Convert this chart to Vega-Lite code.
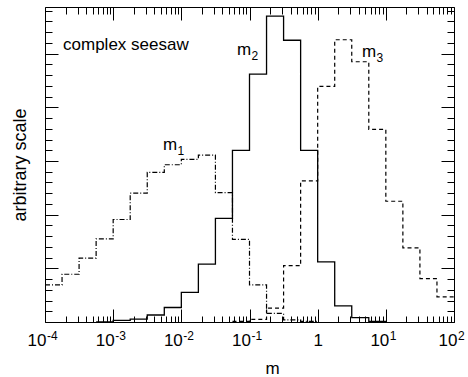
{
  "$schema": "https://vega.github.io/schema/vega-lite/v6.json",
  "width": 409,
  "height": 315,
  "autosize": {"type": "none"},
  "padding": {"left": 45, "top": 7, "right": 14, "bottom": 55},
  "config": {
    "view": {"stroke": "black", "strokeWidth": 1},
    "font": "Liberation Sans",
    "axis": {
      "grid": false,
      "domain": false,
      "tickColor": "black",
      "tickWidth": 1,
      "labelColor": "black",
      "titleColor": "black",
      "labelFont": "Liberation Sans",
      "titleFont": "Liberation Sans",
      "titleFontWeight": "normal"
    }
  },
  "datasets": {
    "m1": [
      {"x": 0.0001, "y": 0.69},
      {"x": 0.000177828, "y": 0.89},
      {"x": 0.000316228, "y": 1.19},
      {"x": 0.000562341, "y": 1.55},
      {"x": 0.001, "y": 1.91},
      {"x": 0.00177828, "y": 2.40},
      {"x": 0.00316228, "y": 2.79},
      {"x": 0.00562341, "y": 2.93},
      {"x": 0.01, "y": 3.03},
      {"x": 0.0177828, "y": 3.11},
      {"x": 0.0316228, "y": 2.41},
      {"x": 0.0562341, "y": 1.54},
      {"x": 0.1, "y": 0.69},
      {"x": 0.177828, "y": 0.16},
      {"x": 0.316228, "y": 0.04},
      {"x": 0.562341, "y": 0.01},
      {"x": 1, "y": 0}
    ],
    "m2": [
      {"x": 0.000562341, "y": 0},
      {"x": 0.001, "y": 0.03},
      {"x": 0.00177828, "y": 0.055},
      {"x": 0.00316228, "y": 0.13},
      {"x": 0.00562341, "y": 0.27},
      {"x": 0.01, "y": 0.553},
      {"x": 0.0177828, "y": 1.08},
      {"x": 0.0316228, "y": 1.93},
      {"x": 0.0562341, "y": 3.20},
      {"x": 0.1, "y": 4.62},
      {"x": 0.177828, "y": 5.70},
      {"x": 0.316228, "y": 5.25},
      {"x": 0.562341, "y": 3.20},
      {"x": 1, "y": 1.12},
      {"x": 1.77828, "y": 0.30},
      {"x": 3.16228, "y": 0.08},
      {"x": 5.62341, "y": 0.01},
      {"x": 10, "y": 0}
    ],
    "m3": [
      {"x": 0.0562341, "y": 0.01},
      {"x": 0.1, "y": 0.05},
      {"x": 0.177828, "y": 0.26},
      {"x": 0.316228, "y": 1.05},
      {"x": 0.562341, "y": 2.63},
      {"x": 1, "y": 4.39},
      {"x": 1.77828, "y": 5.26},
      {"x": 3.16228, "y": 4.85},
      {"x": 5.62341, "y": 3.59},
      {"x": 10, "y": 2.25},
      {"x": 17.7828, "y": 1.38},
      {"x": 31.6228, "y": 0.81},
      {"x": 56.2341, "y": 0.47},
      {"x": 100, "y": 0.47}
    ],
    "labels": [
      {"x": 0.000184, "y": 5.07, "t": "complex seesaw", "s": ""},
      {"x": 0.00538, "y": 3.20, "t": "m", "s": "1"},
      {"x": 0.0655, "y": 4.97, "t": "m", "s": "2"},
      {"x": 4.47, "y": 4.93, "t": "m", "s": "3"}
    ]
  },
  "resolve": {
    "scale": {"x": "shared", "y": "shared"},
    "axis": {"x": "independent", "y": "independent"}
  },
  "layer": [
    {
      "data": {"name": "m1"},
      "mark": {"type": "line", "interpolate": "step-after", "color": "black", "strokeWidth": 1.2, "strokeDash": [5, 2, 1, 2]},
      "encoding": {
        "x": {
          "field": "x", "type": "quantitative",
          "scale": {"type": "log", "domain": [0.0001, 100], "nice": false},
          "axis": {
            "orient": "bottom",
            "values": [0.0001, 0.001, 0.01, 0.1, 1, 10, 100],
            "tickSize": -13,
            "labelExpr": "abs(datum.value - 1) < 1e-9 ? '1' : '10'",
            "labelFontSize": 17,
            "labelAlign": {"condition": {"test": "abs(datum.value - 1) < 1e-9", "value": "center"}, "value": "right"},
            "labelOffset": {"condition": [{"test": "abs(datum.value - 1) < 1e-9", "value": 0}, {"test": "datum.value < 1", "value": 1}], "value": 3},
            "labelPadding": 23,
            "labelFlush": false,
            "labelOverlap": false,
            "title": "m",
            "titleFontSize": 17,
            "titleX": 227,
            "titleY": 51,
            "titleBaseline": "alphabetic"
          }
        },
        "y": {
          "field": "y", "type": "quantitative",
          "scale": {"domain": [0, 5.87], "nice": false, "zero": true},
          "axis": {
            "orient": "left",
            "values": [0, 1, 2, 3, 4, 5],
            "tickSize": -13,
            "labels": false,
            "title": "arbitrary scale",
            "titleFontSize": 18,
            "titlePadding": 15
          }
        }
      }
    },
    {
      "data": {"name": "m2"},
      "mark": {"type": "line", "interpolate": "step-after", "color": "black", "strokeWidth": 1.3},
      "encoding": {
        "x": {
          "field": "x", "type": "quantitative",
          "scale": {"type": "log", "domain": [0.0001, 100], "nice": false},
          "axis": {
            "orient": "bottom",
            "values": [0.0002, 0.0003, 0.0004, 0.0005, 0.0006, 0.0007, 0.0008, 0.0009,
                       0.002, 0.003, 0.004, 0.005, 0.006, 0.007, 0.008, 0.009,
                       0.02, 0.03, 0.04, 0.05, 0.06, 0.07, 0.08, 0.09,
                       0.2, 0.3, 0.4, 0.5, 0.6, 0.7, 0.8, 0.9,
                       2, 3, 4, 5, 6, 7, 8, 9,
                       20, 30, 40, 50, 60, 70, 80, 90],
            "tickSize": -6,
            "labels": false,
            "title": null
          }
        },
        "y": {
          "field": "y", "type": "quantitative",
          "scale": {"domain": [0, 5.87], "nice": false, "zero": true},
          "axis": {
            "orient": "left",
            "values": [0.2, 0.4, 0.6, 0.8, 1.2, 1.4, 1.6, 1.8, 2.2, 2.4, 2.6, 2.8, 3.2, 3.4, 3.6, 3.8, 4.2, 4.4, 4.6, 4.8, 5.2, 5.4, 5.6, 5.8],
            "tickSize": -7,
            "labels": false,
            "title": null
          }
        }
      }
    },
    {
      "data": {"name": "m3"},
      "mark": {"type": "line", "interpolate": "step-after", "color": "black", "strokeWidth": 1.2, "strokeDash": [4, 3]},
      "encoding": {
        "x": {
          "field": "x", "type": "quantitative",
          "scale": {"type": "log", "domain": [0.0001, 100], "nice": false},
          "axis": {
            "orient": "top",
            "values": [0.0001, 0.001, 0.01, 0.1, 1, 10, 100],
            "tickSize": -13,
            "labels": false,
            "title": null
          }
        },
        "y": {
          "field": "y", "type": "quantitative",
          "scale": {"domain": [0, 5.87], "nice": false, "zero": true},
          "axis": {
            "orient": "right",
            "values": [0, 1, 2, 3, 4, 5],
            "tickSize": -13,
            "labels": false,
            "title": null
          }
        }
      }
    },
    {
      "data": {"name": "labels"},
      "mark": {"type": "text", "align": "left", "baseline": "alphabetic", "fontSize": 17, "font": "Liberation Sans", "color": "black"},
      "encoding": {
        "x": {
          "field": "x", "type": "quantitative",
          "scale": {"type": "log", "domain": [0.0001, 100], "nice": false},
          "axis": {
            "orient": "top",
            "values": [0.0002, 0.0003, 0.0004, 0.0005, 0.0006, 0.0007, 0.0008, 0.0009,
                       0.002, 0.003, 0.004, 0.005, 0.006, 0.007, 0.008, 0.009,
                       0.02, 0.03, 0.04, 0.05, 0.06, 0.07, 0.08, 0.09,
                       0.2, 0.3, 0.4, 0.5, 0.6, 0.7, 0.8, 0.9,
                       2, 3, 4, 5, 6, 7, 8, 9,
                       20, 30, 40, 50, 60, 70, 80, 90],
            "tickSize": -7,
            "labels": false,
            "title": null
          }
        },
        "y": {
          "field": "y", "type": "quantitative",
          "scale": {"domain": [0, 5.87], "nice": false, "zero": true},
          "axis": {
            "orient": "right",
            "values": [0.2, 0.4, 0.6, 0.8, 1.2, 1.4, 1.6, 1.8, 2.2, 2.4, 2.6, 2.8, 3.2, 3.4, 3.6, 3.8, 4.2, 4.4, 4.6, 4.8, 5.2, 5.4, 5.6, 5.8],
            "tickSize": -7,
            "labels": false,
            "title": null
          }
        },
        "text": {"field": "t"}
      }
    },
    {
      "data": {"name": "labels"},
      "mark": {"type": "text", "align": "left", "baseline": "alphabetic", "fontSize": 12, "font": "Liberation Sans", "color": "black", "dx": 14.5, "dy": 5},
      "encoding": {
        "x": {
          "field": "x", "type": "quantitative",
          "scale": {"type": "log", "domain": [0.0001, 100], "nice": false},
          "axis": {
            "orient": "bottom",
            "values": [0.0001, 0.001, 0.01, 0.1, 10, 100],
            "ticks": false,
            "tickSize": 0,
            "labelExpr": "'' + round(log(datum.value) / LN10)",
            "labelFontSize": 12,
            "labelAlign": "left",
            "labelOffset": {"condition": {"test": "datum.value < 1", "value": 1.5}, "value": 3.5},
            "labelPadding": 8.4,
            "labelFlush": false,
            "labelOverlap": false,
            "title": null
          }
        },
        "y": {
          "field": "y", "type": "quantitative",
          "scale": {"domain": [0, 5.87], "nice": false, "zero": true},
          "axis": null
        },
        "text": {"field": "s"}
      }
    }
  ]
}
